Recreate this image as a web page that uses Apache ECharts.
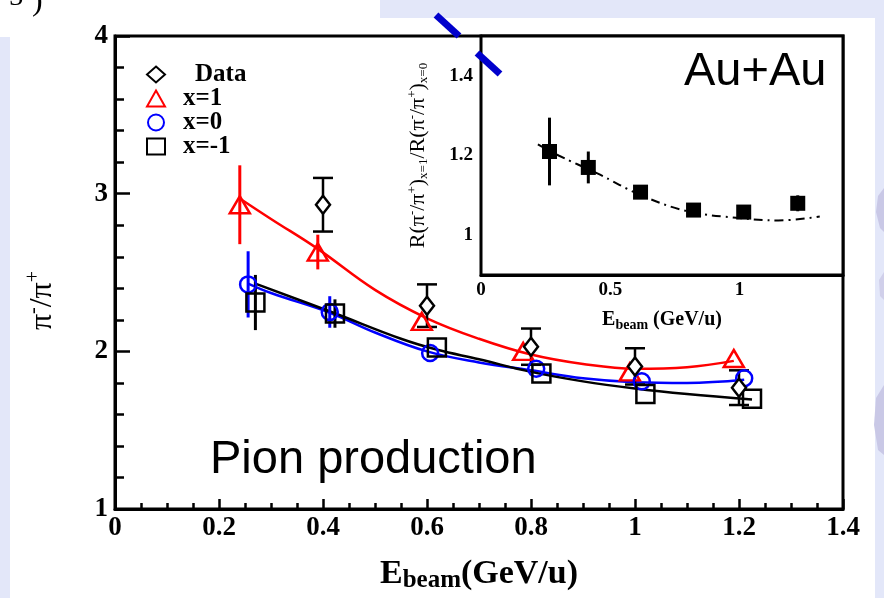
<!DOCTYPE html>
<html>
<head>
<meta charset="utf-8">
<script src="https://cdn.jsdelivr.net/npm/echarts@6/dist/echarts.min.js"></script>
<style>
  html, body { margin: 0; padding: 0; background: #e3e7f9; }
  .sheet { position: absolute; background: #ffffff; }
  #chart { position: absolute; left: 0; top: 0; width: 884px; height: 598px; }
</style>
</head>
<body>
<div class="sheet" style="left:10px;top:18px;width:865px;height:580px;"></div>
<div class="sheet" style="left:0;top:0;width:380px;height:37px;"></div>
<div id="chart"></div>
<script>
// pi-/pi+ ratio in Au+Au versus beam energy: measured data and three model settings (x = 1, 0, -1)
const dataEnergy = [0.4, 0.6, 0.8, 1.0, 1.2];
const dataRatio  = [2.93, 2.29, 2.03, 1.905, 1.77];
const dataError  = [0.17, 0.135, 0.115, 0.115, 0.11];

const x1Energy = [0.24, 0.39, 0.59, 0.785, 0.99, 1.19];
const x1Ratio  = [2.93, 2.63, 2.19, 2.0, 1.87, 1.955];
const x1Error  = [0.25, 0.11, 0, 0, 0, 0];
const x1CurveEnergy = [0.24, 0.3, 0.39, 0.5, 0.6, 0.7, 0.8, 0.9, 1.0, 1.1, 1.19];
const x1CurveRatio  = [2.97, 2.84, 2.65, 2.39, 2.21, 2.08, 1.98, 1.92, 1.89, 1.9, 1.94];

const x0Energy = [0.256, 0.413, 0.606, 0.81, 1.013, 1.21];
const x0Ratio  = [2.425, 2.25, 1.99, 1.89, 1.81, 1.83];
const x0Error  = [0.21, 0.1, 0, 0, 0, 0];
const x0CurveEnergy = [0.256, 0.3, 0.413, 0.5, 0.6, 0.7, 0.8, 0.9, 1.0, 1.1, 1.21];
const x0CurveRatio  = [2.43, 2.37, 2.245, 2.12, 2.0, 1.93, 1.88, 1.83, 1.805, 1.8, 1.82];

const xm1Energy = [0.27, 0.423, 0.619, 0.82, 1.02, 1.225];
const xm1Ratio  = [2.31, 2.24, 2.025, 1.86, 1.73, 1.70];
const xm1Error  = [0.175, 0.09, 0, 0, 0, 0];
const xm1CurveEnergy = [0.27, 0.42, 0.55, 0.62, 0.7, 0.8, 0.9, 1.0, 1.1, 1.225];
const xm1CurveRatio  = [2.43, 2.245, 2.08, 2.01, 1.95, 1.87, 1.81, 1.765, 1.73, 1.695];

// inset: double ratio R(x=1)/R(x=0)
const insetEnergy = [0.265, 0.415, 0.617, 0.822, 1.016, 1.225];
const insetRatio  = [1.21, 1.17, 1.108, 1.063, 1.058, 1.08];
const insetError  = [0.085, 0.04, 0.015, 0.015, 0.008, 0.02];
const insetFitEnergy = [0.22, 0.3, 0.45, 0.62, 0.8, 1.0, 1.15, 1.31];
const insetFitRatio  = [1.228, 1.2, 1.155, 1.1, 1.06, 1.043, 1.037, 1.047];

// inset tick positions
const insetXMajor = [0, 0.5, 1];
const insetXMinor = [0.1, 0.2, 0.3, 0.4, 0.6, 0.7, 0.8, 0.9, 1.1, 1.2, 1.3];
const insetYMajor = [1, 1.2, 1.4];
const insetYMinor = [0.95, 1.05, 1.1, 1.15, 1.25, 1.3, 1.35, 1.45];

const legendNames = ['Data', 'x=1', 'x=0', 'x=-1'];

const serif = "'Liberation Serif','Times New Roman',serif";
const sans = "'Liberation Sans',Arial,sans-serif";

const zip = (a, b, c) => a.map((v, i) => c ? [v, b[i], c[i]] : [v, b[i]]);

function errorBars(capHalf, color, width) {
  return function (params, api) {
    const x = api.value(0), y = api.value(1), e = api.value(2);
    if (!e) return null;
    const hi = api.coord([x, y + e]);
    const lo = api.coord([x, y - e]);
    const style = { stroke: color, lineWidth: width };
    const children = [{ type: 'line', shape: { x1: hi[0], y1: hi[1], x2: lo[0], y2: lo[1] }, style }];
    if (capHalf) {
      children.push({ type: 'line', shape: { x1: hi[0] - capHalf, y1: hi[1], x2: hi[0] + capHalf, y2: hi[1] }, style });
      children.push({ type: 'line', shape: { x1: lo[0] - capHalf, y1: lo[1], x2: lo[0] + capHalf, y2: lo[1] }, style });
    }
    return { type: 'group', children };
  };
}

const black = '#000000';
const tickStyle = { color: black, width: 2.5 };

const chart = echarts.init(document.getElementById('chart'));
chart.setOption({
  animation: false,
  title: [
    { text: 'Au+Au', left: 684, top: 49, padding: 0,
      textStyle: { fontFamily: sans, fontWeight: 'normal', fontSize: 47, color: black } },
    { text: 'Pion production', left: 210, top: 437, padding: 0,
      textStyle: { fontFamily: sans, fontWeight: 'normal', fontSize: 47, color: black } }
  ],
  legend: {
    orient: 'vertical', left: 141, top: 57,
    itemWidth: 18, itemHeight: 16, itemGap: -1,
    data: legendNames,
    formatter: name => name === 'Data' ? '{d|Data}' : name,
    textStyle: {
      fontFamily: serif, fontWeight: 'bold', fontSize: 25, color: black,
      padding: [0, 0, 0, 13],
      rich: { d: { fontFamily: serif, fontWeight: 'bold', fontSize: 25, color: black, padding: [0, 0, 0, 12] } }
    }
  },
  grid: [
    { left: 115, top: 36, width: 728, height: 479, show: true, borderColor: black, borderWidth: 3, backgroundColor: 'rgba(0,0,0,0)' },
    { left: 481, top: 36, width: 362, height: 239, show: true, borderColor: black, borderWidth: 3, backgroundColor: '#ffffff', z: 1 }
  ],
  xAxis: [
    {
      type: 'value', gridIndex: 0, min: 0, max: 1.4, interval: 0.2, position: 'bottom',
      axisLine: { lineStyle: { color: black, width: 3 } },
      axisTick: { inside: true, length: 10, lineStyle: tickStyle },
      minorTick: { show: true, splitNumber: 4, length: 6, lineStyle: tickStyle },
      splitLine: { show: false },
      axisLabel: { margin: 5, fontFamily: serif, fontWeight: 'bold', fontSize: 27, color: black },
      name: '{e|E}{s|beam}{e|(GeV/u)}', nameLocation: 'middle', nameGap: 31,
      nameTextStyle: {
        rich: {
          e: { fontFamily: serif, fontWeight: 'bold', fontSize: 34, color: black, lineHeight: 36, verticalAlign: 'top' },
          s: { fontFamily: serif, fontWeight: 'bold', fontSize: 25, color: black, lineHeight: 25, padding: [22, 0, 0, 0], verticalAlign: 'bottom' }
        }
      }
    },
    {
      type: 'value', gridIndex: 1, min: 0, max: 1.4, position: 'bottom',
      axisLine: { lineStyle: { color: black, width: 3 } },
      axisTick: { inside: true, length: 12, lineStyle: tickStyle, customValues: insetXMajor },
      splitLine: { show: false },
      axisLabel: { margin: 6, fontFamily: serif, fontWeight: 'bold', fontSize: 19, color: black, customValues: insetXMajor },
      name: '{e|E}{s|beam}{e| (GeV/u)}', nameLocation: 'middle', nameGap: 35,
      nameTextStyle: {
        rich: {
          e: { fontFamily: serif, fontWeight: 'bold', fontSize: 20, color: black, lineHeight: 22, verticalAlign: 'top' },
          s: { fontFamily: serif, fontWeight: 'bold', fontSize: 14, color: black, lineHeight: 14, padding: [14, 0, 0, 0], verticalAlign: 'bottom' }
        }
      }
    },
    {
      type: 'value', gridIndex: 1, min: 0, max: 1.4, position: 'bottom',
      axisLine: { show: false },
      axisTick: { inside: true, length: 7, lineStyle: tickStyle, customValues: insetXMinor },
      splitLine: { show: false },
      axisLabel: { show: false }
    }
  ],
  yAxis: [
    {
      type: 'value', gridIndex: 0, min: 1, max: 4, interval: 1, position: 'left',
      axisLine: { lineStyle: { color: black, width: 3 } },
      axisTick: { inside: true, length: 15, lineStyle: tickStyle },
      minorTick: { show: true, splitNumber: 5, length: 9, lineStyle: tickStyle },
      splitLine: { show: false },
      axisLabel: { margin: 7, fontFamily: serif, fontWeight: 'bold', fontSize: 27, color: black },
      name: '{t|π}{p|-}{t|/π}{p|+}', nameLocation: 'middle', nameRotate: 90, nameGap: 56,
      nameTextStyle: {
        padding: [0, 56, 0, 0],
        rich: {
          t: { fontFamily: serif, fontSize: 32, color: black, lineHeight: 35, verticalAlign: 'bottom' },
          p: { fontFamily: serif, fontSize: 20, color: black, lineHeight: 20, verticalAlign: 'top' }
        }
      }
    },
    {
      type: 'value', gridIndex: 1, min: 0.9, max: 1.5, position: 'left',
      axisLine: { lineStyle: { color: black, width: 3 } },
      axisTick: { inside: true, length: 14, lineStyle: tickStyle, customValues: insetYMajor },
      splitLine: { show: false },
      axisLabel: { margin: 8, fontFamily: serif, fontWeight: 'bold', fontSize: 19, color: black, customValues: insetYMajor },
      name: '{t|R(π}{p|-}{t|/π}{p|+}{t|)}{b|x=1}{t|/R(π}{p|-}{t|/π}{p|+}{t|)}{b|x=0}',
      nameLocation: 'middle', nameRotate: 90, nameGap: 51,
      nameTextStyle: {
        rich: {
          t: { fontFamily: serif, fontSize: 22, color: black, lineHeight: 24, verticalAlign: 'middle' },
          p: { fontFamily: serif, fontSize: 13, color: black, lineHeight: 13, verticalAlign: 'top' },
          b: { fontFamily: serif, fontSize: 13, color: black, lineHeight: 13, verticalAlign: 'bottom' }
        }
      }
    },
    {
      type: 'value', gridIndex: 1, min: 0.9, max: 1.5, position: 'left',
      axisLine: { show: false },
      axisTick: { inside: true, length: 8, lineStyle: tickStyle, customValues: insetYMinor },
      splitLine: { show: false },
      axisLabel: { show: false }
    }
  ],
  series: [
    // markers first so the legend takes its icons from them
    { name: 'Data', type: 'scatter', xAxisIndex: 0, yAxisIndex: 0, z: 6,
      symbol: 'diamond', symbolSize: [14, 18],
      itemStyle: { color: '#ffffff', borderColor: black, borderWidth: 2.5, opacity: 1 },
      data: zip(dataEnergy, dataRatio) },
    { name: 'x=1', type: 'scatter', xAxisIndex: 0, yAxisIndex: 0, z: 5,
      symbol: 'triangle', symbolSize: [20, 17],
      itemStyle: { color: 'rgba(0,0,0,0)', borderColor: '#ff0000', borderWidth: 2.5, opacity: 1 },
      data: zip(x1Energy, x1Ratio) },
    { name: 'x=0', type: 'scatter', xAxisIndex: 0, yAxisIndex: 0, z: 5,
      symbol: 'circle', symbolSize: 16,
      itemStyle: { color: 'rgba(0,0,0,0)', borderColor: '#0000ff', borderWidth: 2.5, opacity: 1 },
      data: zip(x0Energy, x0Ratio) },
    { name: 'x=-1', type: 'scatter', xAxisIndex: 0, yAxisIndex: 0, z: 5,
      symbol: 'rect', symbolSize: 18,
      itemStyle: { color: 'rgba(0,0,0,0)', borderColor: black, borderWidth: 2.5, opacity: 1 },
      data: zip(xm1Energy, xm1Ratio) },

    // model curves
    { name: 'x=1', type: 'line', xAxisIndex: 0, yAxisIndex: 0, z: 3, smooth: 0.4, showSymbol: false,
      lineStyle: { color: '#ff0000', width: 2.5 }, data: zip(x1CurveEnergy, x1CurveRatio) },
    { name: 'x=0', type: 'line', xAxisIndex: 0, yAxisIndex: 0, z: 3, smooth: 0.4, showSymbol: false,
      lineStyle: { color: '#0000ff', width: 2.5 }, data: zip(x0CurveEnergy, x0CurveRatio) },
    { name: 'x=-1', type: 'line', xAxisIndex: 0, yAxisIndex: 0, z: 3, smooth: 0.4, showSymbol: false,
      lineStyle: { color: black, width: 2.5 }, data: zip(xm1CurveEnergy, xm1CurveRatio) },

    // error bars
    { name: 'Data', type: 'custom', xAxisIndex: 0, yAxisIndex: 0, z: 4,
      renderItem: errorBars(10, black, 2.5), encode: { x: 0, y: 1 },
      data: zip(dataEnergy, dataRatio, dataError) },
    { name: 'x=1', type: 'custom', xAxisIndex: 0, yAxisIndex: 0, z: 4,
      renderItem: errorBars(0, '#ff0000', 3), encode: { x: 0, y: 1 },
      data: zip(x1Energy, x1Ratio, x1Error) },
    { name: 'x=0', type: 'custom', xAxisIndex: 0, yAxisIndex: 0, z: 4,
      renderItem: errorBars(0, '#0000ff', 3), encode: { x: 0, y: 1 },
      data: zip(x0Energy, x0Ratio, x0Error) },
    { name: 'x=-1', type: 'custom', xAxisIndex: 0, yAxisIndex: 0, z: 4,
      renderItem: errorBars(0, black, 3), encode: { x: 0, y: 1 },
      data: zip(xm1Energy, xm1Ratio, xm1Error) },

    // inset
    { type: 'line', xAxisIndex: 1, yAxisIndex: 1, z: 7, smooth: 0.4, showSymbol: false,
      lineStyle: { color: black, width: 2, type: [9, 5, 2, 5] }, data: zip(insetFitEnergy, insetFitRatio) },
    { type: 'custom', xAxisIndex: 1, yAxisIndex: 1, z: 8,
      renderItem: errorBars(0, black, 3), encode: { x: 0, y: 1 },
      data: zip(insetEnergy, insetRatio, insetError) },
    { type: 'scatter', xAxisIndex: 1, yAxisIndex: 1, z: 9,
      symbol: 'rect', symbolSize: 15, itemStyle: { color: black, opacity: 1 },
      data: zip(insetEnergy, insetRatio) }
  ],
  graphic: [
    // slide leftovers around the figure
    { type: 'text', left: 0, top: -16, z: 100, style: { text: '-3', font: "28px " + serif, fill: black } },
    { type: 'text', left: 32, top: -14, z: 100, style: { text: ')', font: "32px " + serif, fill: black } },
    { type: 'line', z: 100, shape: { x1: 436, y1: 15, x2: 459, y2: 36 }, style: { stroke: '#0000cc', lineWidth: 7 } },
    { type: 'line', z: 100, shape: { x1: 477, y1: 53, x2: 500, y2: 74 }, style: { stroke: '#0000cc', lineWidth: 7 } },
    { type: 'polygon', z: 100, shape: { points: [[884, 188], [878, 196], [876, 212], [880, 228], [884, 232]] }, style: { fill: '#c9c8e6' } },
    { type: 'polygon', z: 100, shape: { points: [[884, 272], [879, 280], [880, 296], [884, 300]] }, style: { fill: '#d0cfea' } },
    { type: 'polygon', z: 100, shape: { points: [[884, 385], [876, 398], [874, 425], [878, 450], [884, 455]] }, style: { fill: '#c9c8e6' } }
  ]
});
</script>
</body>
</html>
